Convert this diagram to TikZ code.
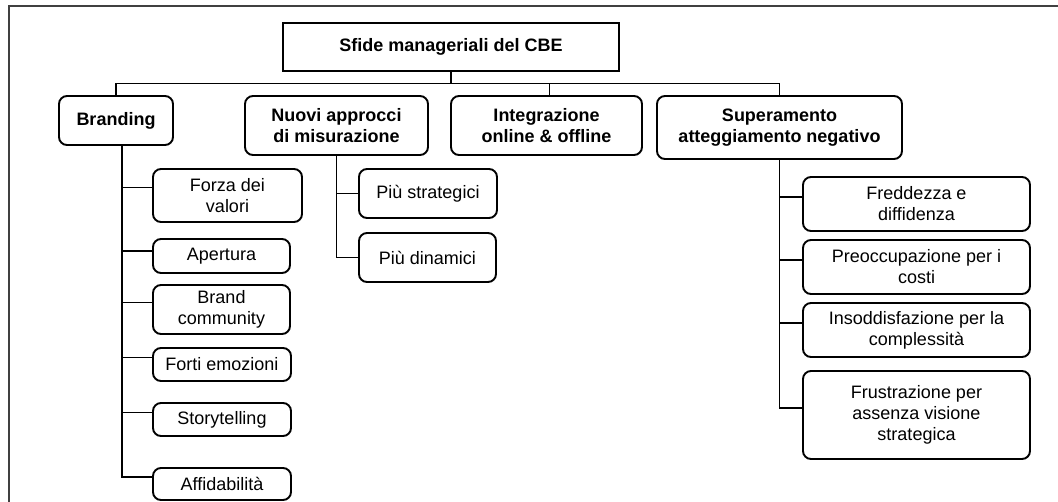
\documentclass[tikz,border=0pt]{standalone}
\usepackage{fontspec}
\setmainfont{Liberation Sans}
\tikzset{
  base/.style={draw=black, line width=1.9pt, align=center, inner sep=0pt,
    font=\fontsize{18}{21}\selectfont, text=black},
  rootbox/.style={base, font=\fontsize{18}{21}\selectfont\bfseries},
  headbox/.style={base, rounded corners=8pt, font=\fontsize{18}{21}\selectfont\bfseries},
  leafbox/.style={base, rounded corners=8pt},
  link/.style={draw=black, line width=1.9pt},
  frame/.style={draw=black!75, line width=1.8pt}
}
\begin{document}
\begin{tikzpicture}[x=1pt,y=-1pt]
\useasboundingbox (0,0) rectangle (1058,501);
\draw[frame] (9,502) -- (9,6) -- (1059,6);

% root
\node[rootbox, minimum width=336pt, minimum height=48pt] (root) at (451,47) {Sfide manageriali del CBE};

% level 1
\node[headbox, minimum width=114pt, minimum height=49pt] (branding) at (116,120.5) {Branding};
\node[headbox, minimum width=183pt, minimum height=59pt] (nuovi) at (336.5,125.5) {Nuovi approcci\\di misurazione};
\node[headbox, minimum width=191pt, minimum height=59pt] (integ) at (546.5,125.5) {Integrazione\\online \& offline};
\node[headbox, minimum width=245pt, minimum height=63pt] (super) at (779.5,127.5) {Superamento\\atteggiamento negativo};

% branding children
\node[leafbox, minimum width=149pt, minimum height=53pt] (forza) at (227.5,195.5) {Forza dei\\valori};
\node[leafbox, minimum width=137pt, minimum height=34pt] (apertura) at (221.5,256) {Apertura};
\node[leafbox, minimum width=137pt, minimum height=49pt] (brand) at (221.5,309.5) {Brand\\community};
\node[leafbox, minimum width=138pt, minimum height=33pt] (forti) at (222,364.5) {Forti emozioni};
\node[leafbox, minimum width=138pt, minimum height=33pt] (story) at (222,419.5) {Storytelling};
\node[leafbox, minimum width=138pt, minimum height=32pt] (affid) at (222,484) {Affidabilità};

% nuovi children
\node[leafbox, minimum width=138pt, minimum height=49pt] (strat) at (428,193.5) {Più strategici};
\node[leafbox, minimum width=137pt, minimum height=49pt] (dinam) at (427.5,257.5) {Più dinamici};

% superamento children
\node[leafbox, minimum width=227pt, minimum height=54pt] (fredd) at (916.5,204) {Freddezza e\\diffidenza};
\node[leafbox, minimum width=227pt, minimum height=54pt] (preocc) at (916.5,267) {Preoccupazione per i\\costi};
\node[leafbox, minimum width=227pt, minimum height=54pt] (insodd) at (916.5,330) {Insoddisfazione per la\\complessità};
\node[leafbox, minimum width=227pt, minimum height=88pt] (frustr) at (916.5,415) {Frustrazione per\\assenza visione\\strategica};

% bus
\coordinate (bus) at (0,83.5);
\draw[link] (root.south) -- (root.south |- bus);
\draw[link] (branding.north) -- (branding.north |- bus) -| (super.north);
\draw[link] ([xshift=3pt]integ.north) -- ([xshift=3pt]integ.north |- bus);

% branding trunk
\coordinate (bt) at ([xshift=6pt]branding.south);
\draw[link] (bt) |- ([yshift=7pt]affid.west);
\draw[link] ([yshift=8pt]bt |- forza.west) -- ([yshift=8pt]forza.west);
\draw[link] ([yshift=5pt]bt |- apertura.west) -- ([yshift=5pt]apertura.west);
\draw[link] ([yshift=7pt]bt |- brand.west) -- ([yshift=7pt]brand.west);
\draw[link] ([yshift=7pt]bt |- forti.west) -- ([yshift=7pt]forti.west);
\draw[link] ([yshift=7pt]bt |- story.west) -- ([yshift=7pt]story.west);

% nuovi trunk
\draw[link] (nuovi.south) |- (dinam.west);
\draw[link] (nuovi.south |- strat.west) -- (strat.west);

% superamento trunk
\draw[link] (super.south) |- ([yshift=7pt]frustr.west);
\draw[link] ([yshift=7pt]super.south |- fredd.west) -- ([yshift=7pt]fredd.west);
\draw[link] ([yshift=7pt]super.south |- preocc.west) -- ([yshift=7pt]preocc.west);
\draw[link] ([yshift=7pt]super.south |- insodd.west) -- ([yshift=7pt]insodd.west);
\end{tikzpicture}
\end{document}
